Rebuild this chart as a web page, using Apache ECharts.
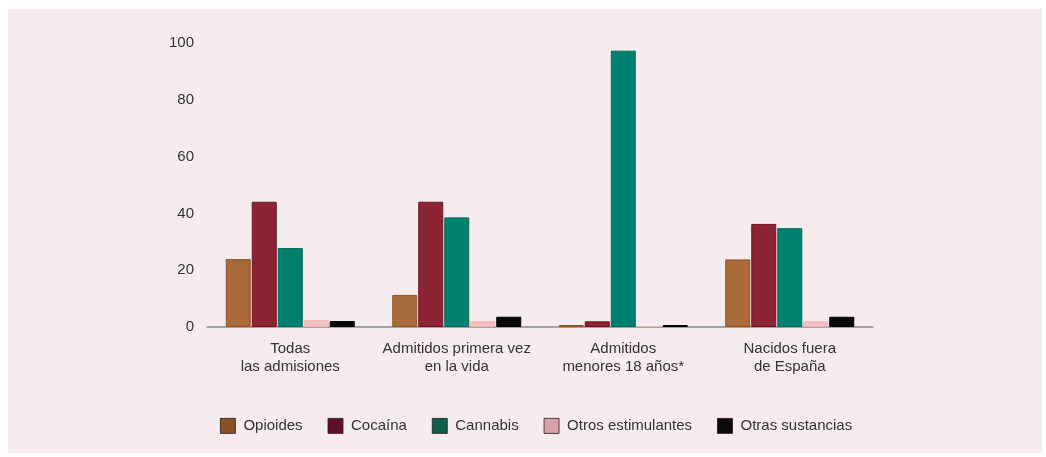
<!DOCTYPE html>
<html>
<head>
<meta charset="utf-8">
<script src="https://cdn.jsdelivr.net/npm/echarts@6/dist/echarts.min.js"></script>
<style>
  html, body { margin: 0; padding: 0; background: #fff; }
  #chart { width: 1046px; height: 457px; }
</style>
</head>
<body>
<div id="chart"></div>
<script>
// Admisiones a tratamiento por sustancia principal (%)
const categories = [
  'Todas\nlas admisiones',
  'Admitidos primera vez\nen la vida',
  'Admitidos\nmenores 18 años*',
  'Nacidos fuera\nde España'
];
const seriesNames = ['Opioides', 'Cocaína', 'Cannabis', 'Otros estimulantes', 'Otras sustancias'];
const opioides = [23.9, 11.3, 0.7, 23.8];
const cocaina = [44.1, 44.1, 2.0, 36.3];
const cannabis = [27.8, 38.6, 97.3, 34.8];
const otrosEstimulantes = [2.4, 2.0, 0.3, 2.0];
const otrasSustancias = [2.1, 3.6, 0.7, 3.6];
const yTicks = [0, 20, 40, 60, 80, 100];

const values = [opioides, cocaina, cannabis, otrosEstimulantes, otrasSustancias];
const barColors = ['#A96A3A', '#8C2434', '#00806F', '#F5C0C0', '#070707'];
const barBorders = ['#8F5328', '#6E1222', '#00685A', '#EDB2B2', '#000000'];
const legendColors = ['#8A4E24', '#5C1027', '#0F5E4C', '#D6A2AC', '#0A0A0A'];

const font = 'Liberation Sans, Arial, Helvetica, sans-serif';

const chart = echarts.init(document.getElementById('chart'), null, { renderer: 'canvas' });

chart.setOption({
  backgroundColor: '#ffffff',
  animation: false,
  graphic: [{
    type: 'rect',
    z: -10,
    shape: { x: 8, y: 9, width: 1034, height: 444 },
    style: { fill: '#F6ECEE' }
  }],
  textStyle: { fontFamily: font },
  grid: { left: 207, right: 173, top: 43, bottom: 130, containLabel: false },
  legend: {
    left: 215,
    top: 413,
    itemWidth: 15,
    itemHeight: 15,
    itemGap: 25,
    icon: 'rect',
    textStyle: { fontSize: 15, color: '#333333', fontFamily: font, padding: [0, 0, 0, 3] },
    data: seriesNames.map((n, i) => ({
      name: n,
      itemStyle: { color: legendColors[i], borderColor: '#2a1a1a', borderWidth: 0.8 }
    }))
  },
  xAxis: {
    type: 'category',
    data: categories,
    axisLine: { show: true, lineStyle: { color: '#8a8a8a', width: 1.5 } },
    axisTick: { show: false },
    axisLabel: {
      interval: 0,
      margin: 13,
      fontSize: 15,
      lineHeight: 18,
      color: '#333333',
      fontFamily: font
    }
  },
  yAxis: {
    type: 'value',
    min: yTicks[0],
    max: yTicks[yTicks.length - 1],
    interval: 20,
    axisLine: { show: false },
    axisTick: { show: false },
    splitLine: { show: false },
    axisLabel: { margin: 13, fontSize: 15, color: '#333333', fontFamily: font }
  },
  series: seriesNames.map((n, i) => ({
    name: n,
    type: 'bar',
    data: values[i],
    barWidth: 25,
    barGap: '4%',
    itemStyle: { color: barColors[i], borderColor: barBorders[i], borderWidth: 1 }
  }))
});
</script>
</body>
</html>
